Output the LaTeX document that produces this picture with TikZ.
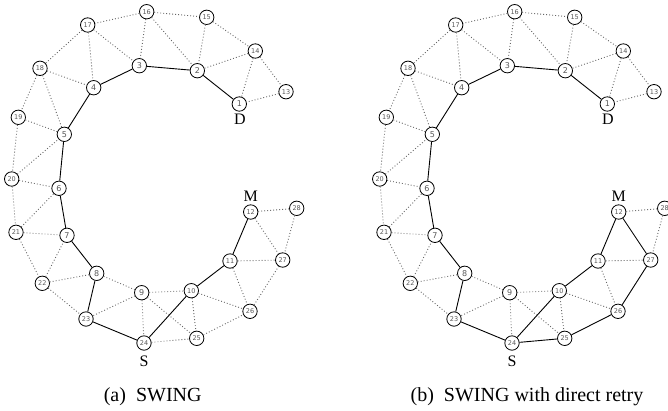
\documentclass[tikz,border=0pt]{standalone}
\usepackage{fontspec}
\setmainfont{Liberation Serif}
\newfontfamily\numfont{DejaVu Sans}
\tikzset{
 nd/.style={circle,draw=black,line width=0.8pt,fill=white,minimum size=14.4pt,inner sep=0pt,text=black!65,font=\numfont\fontsize{8}{8}\selectfont},
 ndd/.style={nd,font=\numfont\fontsize{6.5}{6.5}\selectfont},
 dotl/.style={draw=black!60,line width=0.9pt,dash pattern=on 0.9pt off 2.1pt},
 sol/.style={draw=black,line width=0.9pt},
 lab/.style={font=\fontsize{16}{16}\selectfont},
 capt/.style={font=\fontsize{20}{20}\selectfont,anchor=base}
}
\newcommand\drawpanel[2]{%
 \begin{scope}[xshift=#2]
 \node[nd]  (#1n1)  at (239.3,104)   {1};
 \node[nd]  (#1n2)  at (197.3,70.7)  {2};
 \node[nd]  (#1n3)  at (139.3,65.7)  {3};
 \node[nd]  (#1n4)  at (93.7,87.7)   {4};
 \node[nd]  (#1n5)  at (64.3,134.3)  {5};
 \node[nd]  (#1n6)  at (59,188.3)    {6};
 \node[nd]  (#1n7)  at (67,235.3)    {7};
 \node[nd]  (#1n8)  at (96.7,273.3)  {8};
 \node[nd]  (#1n9)  at (141.7,292.7) {9};
 \node[ndd] (#1n10) at (191.3,290.7) {10};
 \node[ndd] (#1n11) at (230,261)     {11};
 \node[ndd] (#1n12) at (250.7,212)   {12};
 \node[ndd] (#1n13) at (286,91.7)    {13};
 \node[ndd] (#1n14) at (255.3,51)    {14};
 \node[ndd] (#1n15) at (206.7,17.3)  {15};
 \node[ndd] (#1n16) at (146.7,11.7)  {16};
 \node[ndd] (#1n17) at (87.7,25)     {17};
 \node[ndd] (#1n18) at (40,68.3)     {18};
 \node[ndd] (#1n19) at (18.3,117.3)  {19};
 \node[ndd] (#1n20) at (11.7,179)    {20};
 \node[ndd] (#1n21) at (16,232.3)    {21};
 \node[ndd] (#1n22) at (42.3,283.3)  {22};
 \node[ndd] (#1n23) at (86,319)      {23};
 \node[ndd] (#1n24) at (144,343)     {24};
 \node[ndd] (#1n25) at (196.7,338.3) {25};
 \node[ndd] (#1n26) at (250,311.3)   {26};
 \node[ndd] (#1n27) at (282.7,260)   {27};
 \node[ndd] (#1n28) at (296.7,208.3) {28};
 \node[lab] (#1D) at (240,119.3) {D};
 \node[lab] (#1S) at (144,361.7) {S};
 \node[lab] (#1M) at (250.7,196) {M};
 \foreach \a/\b in {16/17,16/15,16/3,16/2,15/2,15/14,17/3,17/4,17/18,18/4,18/5,18/19,19/5,19/20,20/5,20/6,20/21,21/6,21/7,21/22,22/7,22/8,22/23,8/9,9/23,9/24,9/10,9/25,10/25,10/26,11/26,11/27,12/28,28/27,14/2,14/1,14/13,13/1}
   \draw[dotl] (#1n\a) -- (#1n\b);
 \foreach \a/\b in {1/2,2/3,3/4,4/5,5/6,6/7,7/8,8/23,23/24,24/10,10/11,11/12}
   \draw[sol] (#1n\a) -- (#1n\b);
 \end{scope}
}
\begin{document}
\begin{tikzpicture}[x=1pt,y=-1pt]
\useasboundingbox (0,0) rectangle (668,410);
\drawpanel{a}{0pt}
\drawpanel{b}{368pt}
\foreach \a/\b in {24/25,25/26,26/27,12/27}
  \draw[dotl] (an\a) -- (an\b);
\foreach \a/\b in {24/25,25/26,26/27,12/27}
  \draw[sol] (bn\a) -- (bn\b);
\node[capt] (capa) at (152.7,401.7) {(a)\ \ SWING};
\node[capt] (capb) at (527,401.7) {(b)\ \ SWING with direct retry};
\end{tikzpicture}
\end{document}
